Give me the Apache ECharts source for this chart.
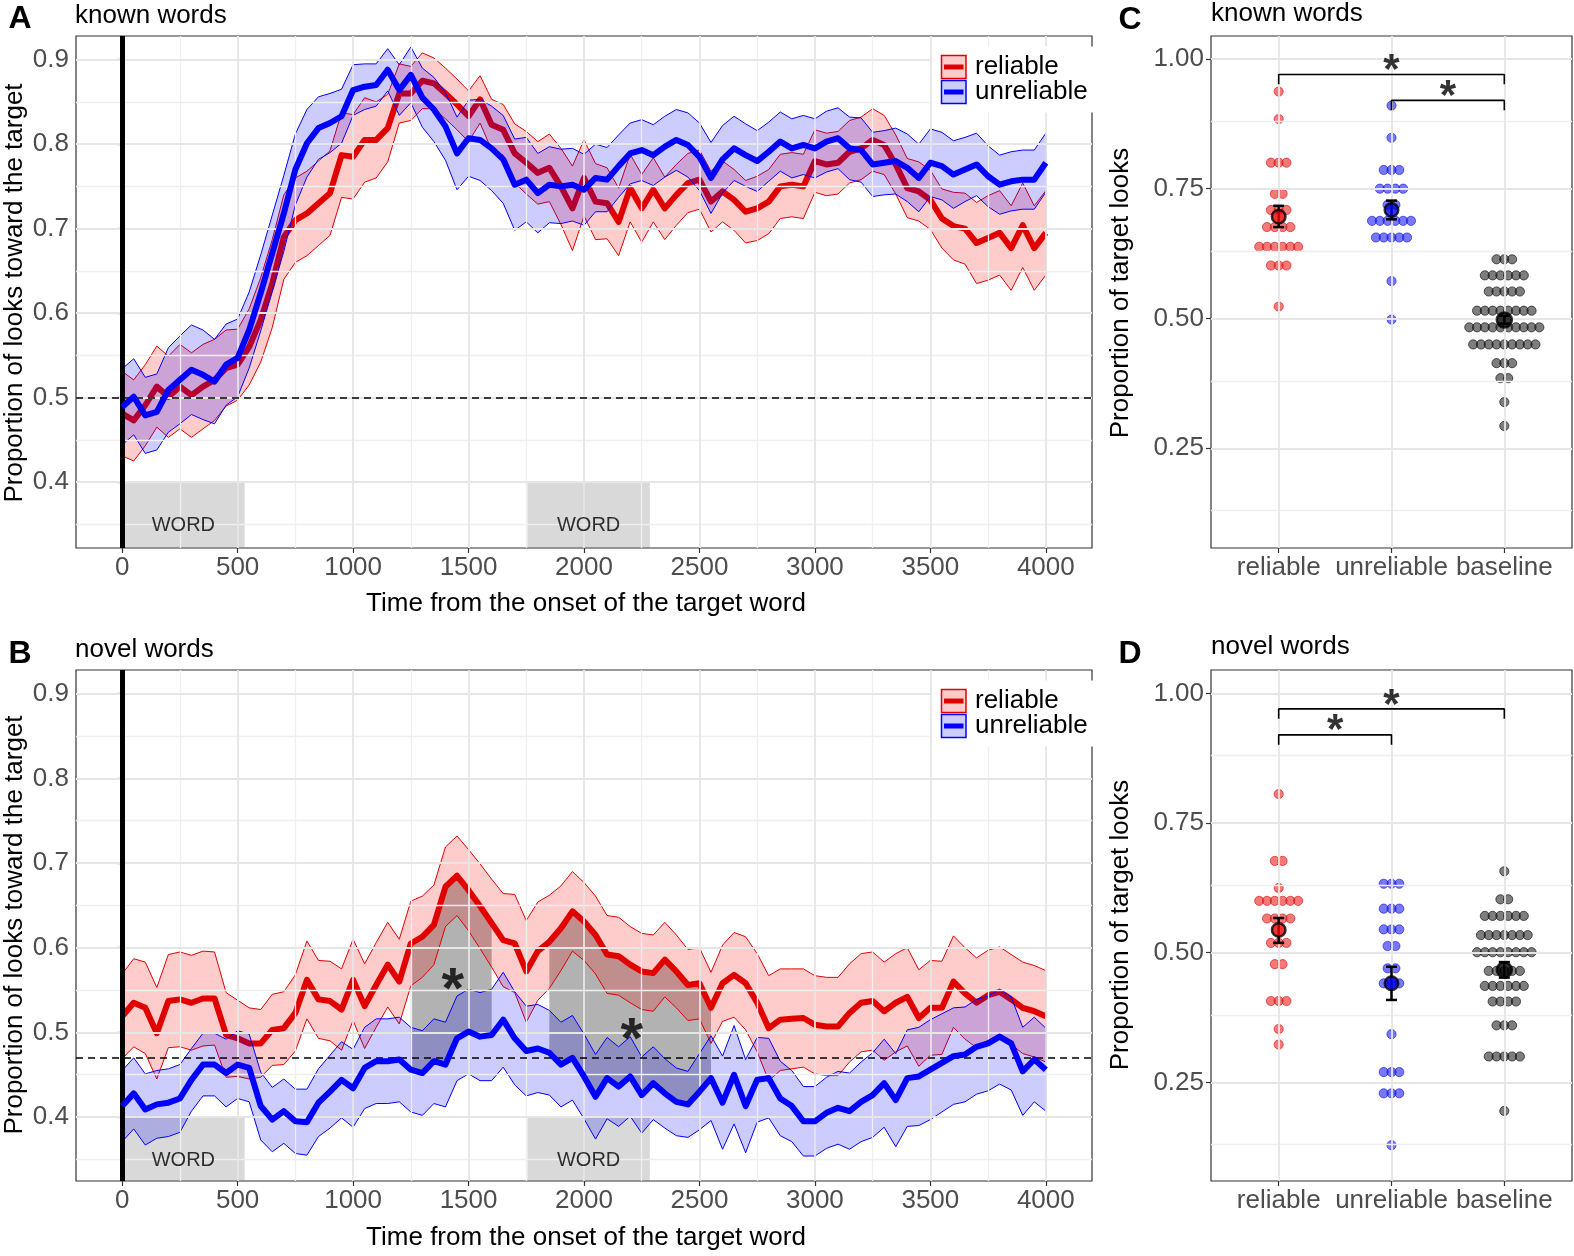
<!DOCTYPE html>
<html><head><meta charset="utf-8">
<script src="https://cdn.jsdelivr.net/npm/echarts@6/dist/echarts.min.js"></script>
<style>html,body{margin:0;padding:0;background:#fff}#c{width:1574px;height:1256px}</style>
</head><body><div id="c"></div>
<script>
// ---------------- DATA ----------------
const timeMs = [0,50,100,150,200,250,300,350,400,450,500,550,600,650,700,750,800,850,900,950,
 1000,1050,1100,1150,1200,1250,1300,1350,1400,1450,1500,1550,1600,1650,1700,1750,1800,1850,1900,1950,
 2000,2050,2100,2150,2200,2250,2300,2350,2400,2450,2500,2550,2600,2650,2700,2750,2800,2850,2900,2950,
 3000,3050,3100,3150,3200,3250,3300,3350,3400,3450,3500,3550,3600,3650,3700,3750,3800,3850,3900,3950,4000];

const knownRelMean = [0.481,0.473,0.491,0.513,0.501,0.513,0.503,0.513,0.521,0.535,
 0.539,0.560,0.592,0.635,0.690,0.710,0.718,0.730,0.742,0.787,
 0.785,0.805,0.805,0.819,0.860,0.860,0.875,0.872,0.860,0.847,
 0.833,0.853,0.823,0.817,0.789,0.778,0.766,0.772,0.750,0.724,
 0.760,0.732,0.730,0.708,0.748,0.724,0.746,0.724,0.740,0.754,
 0.758,0.732,0.744,0.734,0.720,0.724,0.732,0.750,0.752,0.750,
 0.780,0.776,0.778,0.791,0.795,0.805,0.799,0.776,0.748,0.744,
 0.734,0.712,0.703,0.700,0.683,0.689,0.695,0.677,0.704,0.677,0.695];
const knownRelSE = [0.050,0.048,0.048,0.048,0.048,0.050,0.050,0.050,0.048,0.045,
 0.042,0.045,0.050,0.052,0.050,0.050,0.050,0.050,0.050,0.050,
 0.050,0.050,0.045,0.040,0.035,0.032,0.033,0.030,0.030,0.030,
 0.030,0.028,0.030,0.030,0.035,0.037,0.037,0.040,0.045,0.050,
 0.045,0.045,0.042,0.040,0.040,0.040,0.038,0.037,0.036,0.035,
 0.035,0.036,0.036,0.036,0.037,0.038,0.038,0.038,0.038,0.038,
 0.037,0.037,0.037,0.037,0.037,0.037,0.035,0.035,0.035,0.035,
 0.035,0.035,0.040,0.042,0.048,0.050,0.050,0.050,0.050,0.050,0.050];
const knownUnrMean = [0.489,0.501,0.479,0.483,0.509,0.521,0.533,0.527,0.519,0.539,
 0.547,0.580,0.624,0.671,0.718,0.770,0.801,0.819,0.825,0.833,
 0.864,0.868,0.870,0.888,0.864,0.882,0.855,0.841,0.821,0.789,
 0.807,0.805,0.795,0.782,0.752,0.758,0.742,0.752,0.750,0.752,
 0.746,0.760,0.758,0.774,0.789,0.793,0.787,0.797,0.805,0.799,
 0.785,0.760,0.782,0.795,0.787,0.780,0.791,0.803,0.795,0.799,
 0.795,0.803,0.807,0.795,0.793,0.776,0.778,0.780,0.772,0.760,
 0.778,0.774,0.764,0.770,0.776,0.762,0.752,0.756,0.758,0.758,0.778];
const knownUnrSE = [0.045,0.045,0.045,0.045,0.050,0.052,0.053,0.053,0.050,0.048,
 0.046,0.045,0.045,0.045,0.045,0.042,0.040,0.037,0.035,0.032,
 0.030,0.027,0.025,0.025,0.030,0.033,0.035,0.038,0.040,0.043,
 0.045,0.048,0.050,0.052,0.054,0.050,0.047,0.045,0.044,0.043,
 0.042,0.040,0.038,0.037,0.036,0.036,0.036,0.036,0.036,0.038,
 0.040,0.042,0.040,0.038,0.037,0.036,0.035,0.035,0.035,0.035,
 0.035,0.036,0.036,0.037,0.038,0.038,0.038,0.039,0.040,0.040,
 0.040,0.040,0.040,0.038,0.037,0.036,0.035,0.035,0.035,0.035,0.035];

const novelRelMean = [0.519,0.535,0.529,0.499,0.537,0.539,0.535,0.540,0.540,0.497,
 0.493,0.487,0.487,0.503,0.505,0.523,0.562,0.539,0.537,0.527,
 0.562,0.531,0.556,0.580,0.560,0.605,0.613,0.627,0.672,0.685,
 0.668,0.649,0.629,0.609,0.605,0.572,0.596,0.607,0.623,0.643,
 0.631,0.615,0.592,0.590,0.580,0.572,0.570,0.586,0.572,0.556,
 0.558,0.529,0.558,0.568,0.558,0.535,0.505,0.515,0.516,0.517,
 0.509,0.507,0.507,0.523,0.535,0.537,0.525,0.535,0.542,0.517,
 0.529,0.529,0.560,0.546,0.535,0.544,0.548,0.539,0.529,0.525,0.519];
const novelRelSE = [0.050,0.052,0.054,0.054,0.055,0.056,0.056,0.056,0.055,0.050,
 0.045,0.042,0.040,0.042,0.043,0.045,0.046,0.046,0.047,0.048,
 0.048,0.050,0.050,0.050,0.050,0.050,0.048,0.047,0.047,0.047,
 0.048,0.050,0.052,0.055,0.058,0.060,0.058,0.055,0.050,0.047,
 0.046,0.046,0.046,0.046,0.045,0.045,0.045,0.044,0.043,0.042,
 0.042,0.042,0.045,0.050,0.055,0.058,0.062,0.060,0.059,0.058,
 0.058,0.058,0.058,0.058,0.058,0.058,0.058,0.058,0.058,0.057,
 0.056,0.055,0.054,0.054,0.053,0.053,0.053,0.053,0.054,0.054,0.054];
const novelUnrMean = [0.413,0.428,0.409,0.415,0.417,0.422,0.444,0.462,0.462,0.452,
 0.462,0.458,0.413,0.397,0.407,0.395,0.394,0.417,0.430,0.444,
 0.434,0.458,0.466,0.466,0.468,0.456,0.452,0.466,0.462,0.493,
 0.501,0.495,0.497,0.515,0.493,0.478,0.481,0.476,0.462,0.470,
 0.448,0.424,0.446,0.436,0.448,0.426,0.440,0.428,0.418,0.415,
 0.430,0.446,0.417,0.450,0.413,0.444,0.446,0.422,0.413,0.395,
 0.395,0.405,0.411,0.407,0.418,0.426,0.440,0.420,0.446,0.448,
 0.456,0.464,0.472,0.474,0.483,0.487,0.495,0.487,0.454,0.468,0.456];
const novelUnrSE = [0.042,0.042,0.042,0.040,0.040,0.040,0.037,0.037,0.037,0.040,
 0.040,0.040,0.040,0.038,0.038,0.038,0.039,0.040,0.043,0.045,
 0.046,0.048,0.050,0.050,0.050,0.050,0.050,0.050,0.050,0.050,
 0.050,0.052,0.054,0.056,0.055,0.053,0.052,0.050,0.050,0.050,
 0.050,0.050,0.048,0.047,0.047,0.045,0.043,0.041,0.040,0.039,
 0.045,0.050,0.055,0.058,0.055,0.050,0.047,0.044,0.042,0.041,
 0.041,0.042,0.043,0.045,0.047,0.050,0.052,0.055,0.057,0.058,
 0.059,0.058,0.057,0.056,0.056,0.056,0.056,0.055,0.052,0.050,0.049];

const chanceKnown = 0.5;
const chanceNovel = 0.47;
const wordWindows = [[0, 530], [1755, 2285]];
const wordLabelY = 0.349;
const sigWindows = [[1250, 1600], [1850, 2550]];
const sigStars = [[1432, 0.566], [2207, 0.507]];

const xTicks = [0,500,1000,1500,2000,2500,3000,3500,4000];
const xMinor = [250,750,1250,1750,2250,2750,3250,3750];
const yTicksTime = [0.4,0.5,0.6,0.7,0.8,0.9];
const yMinorTime = [0.35,0.45,0.55,0.65,0.75,0.85];

const categories = ['reliable','unreliable','baseline'];
const yTicksProp = [0.25,0.50,0.75,1.00];
const yMinorProp = [0.125,0.375,0.625,0.875];

const knownReliable = [0.937,0.884,0.80,0.80,0.80,0.74,0.74,0.709,0.709,0.709,0.676,0.676,0.676,0.676,
 0.638,0.638,0.638,0.638,0.638,0.638,0.602,0.602,0.602,0.523];
const knownUnreliable = [0.91,0.848,0.786,0.786,0.786,0.75,0.75,0.75,0.75,0.719,0.719,
 0.688,0.688,0.688,0.688,0.688,0.688,0.656,0.656,0.656,0.656,0.656,0.572,0.498];
const knownBaseline = [0.614,0.614,0.614,0.583,0.583,0.583,0.583,0.583,0.583,0.552,0.552,0.552,0.552,0.552,
 0.515,0.515,0.515,0.515,0.515,0.515,0.515,0.515,
 0.483,0.483,0.483,0.483,0.483,0.483,0.483,0.483,0.483,0.483,
 0.45,0.45,0.45,0.45,0.45,0.45,0.45,0.45,0.45,0.414,0.414,0.414,0.385,0.385,0.339,0.293];
const novelReliable = [0.806,0.677,0.677,0.625,0.60,0.60,0.60,0.60,0.60,0.60,0.566,0.566,0.566,0.566,
 0.519,0.519,0.519,0.478,0.478,0.407,0.407,0.407,0.353,0.323];
const novelUnreliable = [0.633,0.633,0.633,0.585,0.585,0.585,0.545,0.545,0.545,0.513,0.513,0.47,0.47,
 0.441,0.441,0.441,0.343,0.27,0.27,0.27,0.229,0.229,0.229,0.129];
const novelBaseline = [0.657,0.603,0.603,0.571,0.571,0.571,0.571,0.571,0.571,
 0.534,0.534,0.534,0.534,0.534,0.534,0.534,0.501,0.501,0.501,0.501,0.501,0.501,0.501,0.501,
 0.465,0.465,0.465,0.465,0.465,0.436,0.436,0.436,0.436,0.436,0.436,0.406,0.406,0.406,0.406,
 0.36,0.36,0.36,0.30,0.30,0.30,0.30,0.30,0.195];

const knownMean = [0.696,0.709,0.497];
const knownLo = [0.676,0.691,0.490];
const knownHi = [0.717,0.727,0.505];
const novelMean = [0.544,0.441,0.467];
const novelLo = [0.519,0.409,0.452];
const novelHi = [0.567,0.473,0.482];

const knownBrackets = [[1,3,0.970],[2,3,0.920]];
const knownStars = [[2,0.998],[2.5,0.947]];
const novelBrackets = [[1,3,0.970],[1,2,0.920]];
const novelStars = [[2,0.997],[1.5,0.949]];
const bracketDrop = 0.019;

// ---------------- STYLE ----------------
const FONT = '"Liberation Sans", Arial, Helvetica, sans-serif';
const RED = '#e00000', BLUE = '#0000ff';
const RED_FILL = 'rgba(255,0,0,0.2)', BLUE_FILL = 'rgba(0,0,255,0.2)';

function zip(t, v) { return t.map((x, i) => [x, v[i]]); }

function gridLines(ai, xMaj, xMin, yMaj, yMin, ymin) {
  const maj = {color:'#e6e6e6', width:1.8, type:'solid'};
  const mnr = {color:'#efefef', width:1.3, type:'solid'};
  const d = [];
  xMin.forEach(v => d.push({xAxis:v, lineStyle:mnr}));
  yMin.forEach(v => d.push({yAxis:v, lineStyle:mnr}));
  xMaj.forEach(v => d.push({xAxis:v, lineStyle:maj}));
  yMaj.forEach(v => d.push({yAxis:v, lineStyle:maj}));
  return {type:'line', xAxisIndex:ai, yAxisIndex:ai, z:0, data:[[-1e6, ymin]], showSymbol:false,
    silent:true, animation:false, lineStyle:{width:0},
    markLine:{silent:true, symbol:['none','none'], label:{show:false}, animation:false, data:d}};
}

function ribbon(ai, t, mean, se, fill, stroke, z) {
  return {type:'custom', xAxisIndex:ai, yAxisIndex:ai, z:z, silent:true, animation:false,
    data:[[t[0], mean[0]]],
    renderItem: function (params, api) {
      const up = [], lo = [];
      for (let i = 0; i < t.length; i++) {
        up.push(api.coord([t[i], mean[i] + se[i]]));
        lo.push(api.coord([t[i], mean[i] - se[i]]));
      }
      return {type:'polygon', shape:{points: up.concat(lo.reverse())},
        style:{fill:fill, stroke:stroke, lineWidth:1}};
    }};
}

function sigBand(ai, t, top, bottom, win) {
  return {type:'custom', xAxisIndex:ai, yAxisIndex:ai, z:1, silent:true, animation:false,
    data:[[win[0], top[0]]],
    renderItem: function (params, api) {
      const up = [], lo = [];
      for (let i = 0; i < t.length; i++) {
        if (t[i] < win[0] || t[i] > win[1]) continue;
        up.push(api.coord([t[i], top[i]]));
        lo.push(api.coord([t[i], bottom[i]]));
      }
      return {type:'polygon', shape:{points: up.concat(lo.reverse())},
        style:{fill:'rgba(0,0,0,0.3)', stroke:'none'}};
    }};
}

function meanLine(ai, t, v, color, z) {
  return {type:'line', xAxisIndex:ai, yAxisIndex:ai, z:z, data:zip(t, v), showSymbol:false, symbol:'none',
    silent:true, animation:false, lineStyle:{color:color, width:6, join:'round'}};
}

function decor(ai, chance, ymin) {
  return [
    {type:'line', xAxisIndex:ai, yAxisIndex:ai, z:1, data:[[-1e6, ymin]], showSymbol:false, silent:true,
      animation:false, lineStyle:{width:0},
      markArea:{silent:true, animation:false,
        itemStyle:{color:'rgba(128,128,128,0.3)'},
        label:{show:false},
        data: wordWindows.map(w => [{xAxis:w[0], yAxis:ymin}, {xAxis:w[1], yAxis:0.4}])}},
    {type:'scatter', xAxisIndex:ai, yAxisIndex:ai, z:8, silent:true, animation:false,
      data: wordWindows.map(w => [(w[0] + w[1]) / 2, wordLabelY]), symbolSize:1,
      itemStyle:{color:'rgba(0,0,0,0)'},
      label:{show:true, position:'inside', formatter:'WORD', color:'#000', fontSize:20, fontFamily:FONT}},
    {type:'line', xAxisIndex:ai, yAxisIndex:ai, z:6, data:[[-1e6, ymin]], showSymbol:false, silent:true,
      animation:false, lineStyle:{width:0},
      markLine:{silent:true, symbol:['none','none'], label:{show:false}, animation:false,
        data:[{yAxis:chance, lineStyle:{color:'#000', width:1.5, type:[7,5]}},
              {xAxis:0, lineStyle:{color:'#000', width:5, type:'solid'}}]}}
  ];
}

function swarm(values, cat, step) {
  const counts = {}, seen = {};
  values.forEach(v => counts[v] = (counts[v] || 0) + 1);
  return values.map(v => {
    const k = counts[v];
    seen[v] = (seen[v] === undefined) ? 0 : seen[v] + 1;
    return [cat + (seen[v] - (k - 1) / 2) * step, v];
  });
}

function dots(ai, values, cat, fill, border) {
  return {type:'scatter', xAxisIndex:ai, yAxisIndex:ai, z:3, silent:true, animation:false,
    data: swarm(values, cat, 0.069), symbolSize:9.2,
    itemStyle:{color:fill, borderColor:border, borderWidth:1, opacity:1}};
}

function meansSeries(ai, mean, lo, hi) {
  return [
    {type:'custom', xAxisIndex:ai, yAxisIndex:ai, z:5, silent:true, animation:false,
      data: mean.map((m, i) => [i + 1, lo[i], hi[i]]),
      renderItem: function (params, api) {
        const x = api.value(0);
        const a = api.coord([x, api.value(1)]), b = api.coord([x, api.value(2)]);
        const st = {stroke:'#000', lineWidth:2.5};
        return {type:'group', children:[
          {type:'line', shape:{x1:a[0], y1:a[1], x2:b[0], y2:b[1]}, style:st},
          {type:'line', shape:{x1:a[0]-5.5, y1:a[1], x2:a[0]+5.5, y2:a[1]}, style:st},
          {type:'line', shape:{x1:b[0]-5.5, y1:b[1], x2:b[0]+5.5, y2:b[1]}, style:st}]};
      }},
    {type:'scatter', xAxisIndex:ai, yAxisIndex:ai, z:6, silent:true, animation:false,
      data: mean.map((m, i) => ({value:[i + 1, m],
        symbolSize: i === 2 ? 15 : 13.5,
        itemStyle:{color:['#ee0000','#0000ee','#000000'][i], borderColor:'#000', borderWidth:2.5}}))}
  ];
}

function brackets(ai, list, stars) {
  const s = list.map(b => ({type:'line', xAxisIndex:ai, yAxisIndex:ai, z:6, silent:true, animation:false,
    showSymbol:false, symbol:'none',
    data:[[b[0], b[2] - bracketDrop], [b[0], b[2]], [b[1], b[2]], [b[1], b[2] - bracketDrop]],
    lineStyle:{color:'#000', width:1.6}}));
  s.push(starSeries(ai, stars, 42));
  return s;
}

function starSeries(ai, pts, size) {
  return {type:'scatter', xAxisIndex:ai, yAxisIndex:ai, z:7, silent:true, animation:false,
    data: pts, symbolSize:1, itemStyle:{color:'rgba(0,0,0,0)'},
    label:{show:true, position:'inside', formatter:'*', color:'#000', fontSize:size, fontWeight:'bold',
      fontFamily:FONT, offset:[0, size * 0.27]}};
}

function timeAxes(gi, ymin) {
  return {
    x: {gridIndex:gi, type:'value', min:-200, max:4200, splitLine:{show:false}, axisLine:{show:false},
      axisTick:{show:true, customValues:xTicks, length:5, lineStyle:{color:'#333', width:1.2}},
      axisLabel:{show:true, customValues:xTicks, fontSize:26, color:'#4d4d4d', fontFamily:FONT, margin:7,
        formatter: v => String(Math.round(v))}},
    y: {gridIndex:gi, type:'value', min:ymin, max:0.928, splitLine:{show:false}, axisLine:{show:false},
      axisTick:{show:true, customValues:yTicksTime, length:5, lineStyle:{color:'#333', width:1.2}},
      axisLabel:{show:true, customValues:yTicksTime, fontSize:26, color:'#4d4d4d', fontFamily:FONT, margin:7,
        formatter: v => Number(v).toFixed(1)}}
  };
}
function propAxes(gi, ymin, ymax) {
  return {
    x: {gridIndex:gi, type:'value', min:0.4, max:3.6, splitLine:{show:false}, axisLine:{show:false},
      axisTick:{show:true, customValues:[1,2,3], length:5, lineStyle:{color:'#333', width:1.2}},
      axisLabel:{show:true, customValues:[1,2,3], fontSize:26, color:'#4d4d4d', fontFamily:FONT, margin:7,
        formatter: v => categories[Math.round(v) - 1]}},
    y: {gridIndex:gi, type:'value', min:ymin, max:ymax, splitLine:{show:false}, axisLine:{show:false},
      axisTick:{show:true, customValues:yTicksProp, length:5, lineStyle:{color:'#333', width:1.2}},
      axisLabel:{show:true, customValues:yTicksProp, fontSize:26, color:'#4d4d4d', fontFamily:FONT, margin:7,
        formatter: v => Number(v).toFixed(2)}}
  };
}

const yMinA = 0.322, yMinB = 0.3245;
const axA = timeAxes(0, yMinA), axB = timeAxes(1, yMinB);
const axC = propAxes(2, 0.058, 1.044), axD = propAxes(3, 0.060, 1.045);

const gridBase = {show:true, borderColor:'#333', borderWidth:1.2, backgroundColor:'transparent', containLabel:false, outerBoundsMode:'none'};
const grids = [
  Object.assign({left:76, top:36, width:1016, height:512}, gridBase),
  Object.assign({left:76, top:670, width:1016, height:511}, gridBase),
  Object.assign({left:1211, top:36, width:361, height:512}, gridBase),
  Object.assign({left:1211, top:670, width:361, height:511}, gridBase)
];

function txt(x, y, text, size, o) {
  o = o || {};
  return {type:'text', x:x, y:y, z:100, rotation:o.rot || 0,
    style:{text:text, font:(o.bold ? 'bold ' : '') + size + 'px ' + FONT, fill:'#000',
      align:o.align || 'left', verticalAlign:'middle'}};
}
function legend(y0) {
  return [
    {type:'rect', z:98, shape:{x:932, y:y0 - 9, width:168, height:66}, style:{fill:'#fff'}},
    {type:'rect', z:99, shape:{x:941.5, y:y0, width:24.5, height:23}, style:{fill:RED_FILL, stroke:RED, lineWidth:1.5}},
    {type:'line', z:100, shape:{x1:944, y1:y0 + 11.5, x2:963.5, y2:y0 + 11.5}, style:{stroke:RED, lineWidth:5}},
    {type:'rect', z:99, shape:{x:941.5, y:y0 + 25, width:24.5, height:23}, style:{fill:BLUE_FILL, stroke:BLUE, lineWidth:1.5}},
    {type:'line', z:100, shape:{x1:944, y1:y0 + 36.5, x2:963.5, y2:y0 + 36.5}, style:{stroke:BLUE, lineWidth:5}},
    txt(975, y0 + 11.5, 'reliable', 26), txt(975, y0 + 36.5, 'unreliable', 26)
  ];
}

const graphics = [
  txt(20, 19, 'A', 32, {bold:true, align:'center'}),
  txt(75, 16, 'known words', 26),
  txt(20, 654, 'B', 32, {bold:true, align:'center'}),
  txt(75, 650, 'novel words', 26),
  txt(1130, 20, 'C', 32, {bold:true, align:'center'}),
  txt(1211, 14, 'known words', 26),
  txt(1130, 654, 'D', 32, {bold:true, align:'center'}),
  txt(1211, 647, 'novel words', 26),
  txt(586, 604, 'Time from the onset of the target word', 26, {align:'center'}),
  txt(586, 1238, 'Time from the onset of the target word', 26, {align:'center'}),
  txt(15, 293, 'Proportion of looks toward the target', 26, {align:'center', rot:Math.PI / 2}),
  txt(15, 925, 'Proportion of looks toward the target', 26, {align:'center', rot:Math.PI / 2}),
  txt(1121, 293, 'Proportion of target looks', 26, {align:'center', rot:Math.PI / 2}),
  txt(1121, 925, 'Proportion of target looks', 26, {align:'center', rot:Math.PI / 2})
].concat(legend(55.5), legend(689.5));

const series = [
  gridLines(0, xTicks, xMinor, yTicksTime, yMinorTime, yMinA),
  gridLines(1, xTicks, xMinor, yTicksTime, yMinorTime, yMinB),
  gridLines(2, [1,2,3], [], yTicksProp, yMinorProp, 0.058),
  gridLines(3, [1,2,3], [], yTicksProp, yMinorProp, 0.060),
  ...decor(0, chanceKnown, yMinA),
  ...decor(1, chanceNovel, yMinB),
  // panel A
  ribbon(0, timeMs, knownRelMean, knownRelSE, RED_FILL, RED, 2),
  meanLine(0, timeMs, knownRelMean, RED, 3),
  ribbon(0, timeMs, knownUnrMean, knownUnrSE, BLUE_FILL, BLUE, 4),
  meanLine(0, timeMs, knownUnrMean, BLUE, 5),
  // panel B
  ...sigWindows.map(w => sigBand(1, timeMs, novelRelMean, novelUnrMean, w)),
  ribbon(1, timeMs, novelRelMean, novelRelSE, RED_FILL, RED, 2),
  meanLine(1, timeMs, novelRelMean, RED, 3),
  ribbon(1, timeMs, novelUnrMean, novelUnrSE, BLUE_FILL, BLUE, 4),
  meanLine(1, timeMs, novelUnrMean, BLUE, 5),
  starSeries(1, sigStars, 58),
  // panel C
  dots(2, knownReliable, 1, 'rgba(240,30,30,0.6)', 'rgba(200,0,0,0.55)'),
  dots(2, knownUnreliable, 2, 'rgba(30,30,250,0.6)', 'rgba(0,0,200,0.55)'),
  dots(2, knownBaseline, 3, 'rgba(40,40,40,0.6)', 'rgba(0,0,0,0.6)'),
  ...meansSeries(2, knownMean, knownLo, knownHi),
  ...brackets(2, knownBrackets, knownStars),
  // panel D
  dots(3, novelReliable, 1, 'rgba(240,30,30,0.6)', 'rgba(200,0,0,0.55)'),
  dots(3, novelUnreliable, 2, 'rgba(30,30,250,0.6)', 'rgba(0,0,200,0.55)'),
  dots(3, novelBaseline, 3, 'rgba(40,40,40,0.6)', 'rgba(0,0,0,0.6)'),
  ...meansSeries(3, novelMean, novelLo, novelHi),
  ...brackets(3, novelBrackets, novelStars)
];

const chart = echarts.init(document.getElementById('c'), null, {renderer:'canvas'});
chart.setOption({
  backgroundColor:'#fff',
  animation:false,
  textStyle:{fontFamily:FONT},
  grid: grids,
  xAxis:[axA.x, axB.x, axC.x, axD.x],
  yAxis:[axA.y, axB.y, axC.y, axD.y],
  graphic: graphics,
  series: series
});
</script></body></html>
